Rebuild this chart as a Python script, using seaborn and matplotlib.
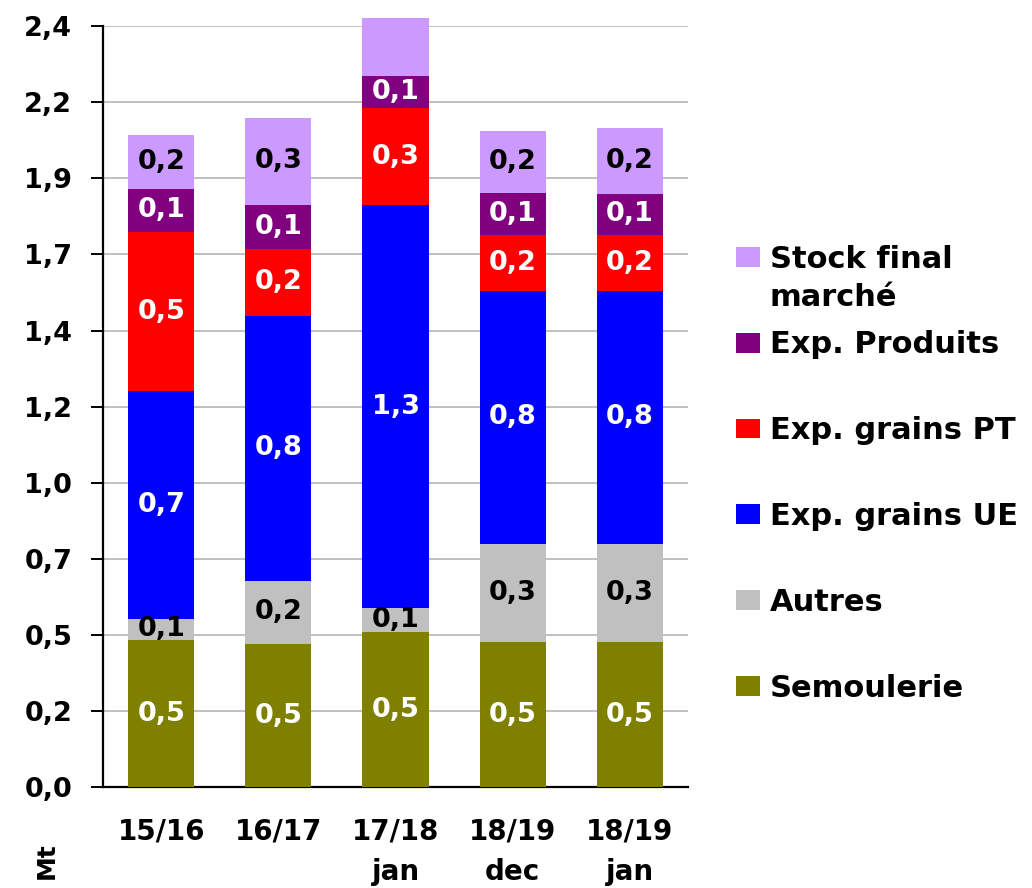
import numpy as np
import pandas as pd
import matplotlib
matplotlib.use("Agg")
import matplotlib.pyplot as plt
import seaborn as sns
from matplotlib.patches import Patch
from matplotlib.ticker import FixedLocator, FuncFormatter

# data (Mt)
seasons = ["15/16", "16/17", "17/18\njan", "18/19\ndec", "18/19\njan"]
semoulerie = [0.465, 0.452, 0.490, 0.458, 0.458]
autres = [0.066, 0.199, 0.076, 0.309, 0.309]
exp_ue = [0.717, 0.836, 1.269, 0.799, 0.799]
exp_pt = [0.502, 0.211, 0.305, 0.176, 0.176]
exp_produits = [0.137, 0.139, 0.104, 0.133, 0.130]
stock_final = [0.169, 0.274, 0.180, 0.193, 0.205]
stock_label_shown = [True, True, False, True, True]

layers = ["Semoulerie", "Autres", "Exp. grains UE", "Exp. grains PT",
          "Exp. Produits", "Stock final"]
colors = ["#808000", "#C0C0C0", "#0000FF", "#FF0000", "#800080", "#CC99FF"]
text_colors = ["white", "black", "white", "white", "white", "black"]

df = pd.DataFrame({"season": seasons, "Semoulerie": semoulerie, "Autres": autres,
                   "Exp. grains UE": exp_ue, "Exp. grains PT": exp_pt,
                   "Exp. Produits": exp_produits, "Stock final": stock_final})
cum = df[layers].cumsum(axis=1)

sns.set_theme(style="white")
plt.rcParams["font.family"] = ["DejaVu Sans"]
plt.rcParams["font.weight"] = "bold"
plt.rcParams["text.color"] = "black"

fig = plt.figure(figsize=(10.32, 8.88), dpi=100)
ax = fig.add_axes([0.0995, 0.1134, 0.5675, 0.8573])

# stacked bars: draw cumulative totals from the top layer down
for name, col in reversed(list(zip(layers, colors))):
    sns.barplot(x=df["season"], y=cum[name], color=col, saturation=1,
                width=0.565, errorbar=None, linewidth=0, ax=ax, zorder=3)
for p in ax.patches:
    p.set_clip_on(False)

# value labels
for i, name in enumerate(layers):
    vals = df[name].values
    bottoms = cum[name].values - vals
    for j, v in enumerate(vals):
        if i == 5 and not stock_label_shown[j]:
            continue
        ax.text(j, bottoms[j] + v / 2, f"{v:.1f}".replace(".", ","),
                ha="center", va="center", color=text_colors[i],
                fontsize=19.5, fontweight="bold", zorder=5)

ax.set_xlim(-0.5, 4.5)
ax.set_ylim(0, 2.4)
yt = np.arange(0, 2.41, 0.24)
ax.yaxis.set_major_locator(FixedLocator(yt))
ax.yaxis.set_major_formatter(FuncFormatter(lambda v, p: f"{v:.1f}".replace(".", ",")))
ax.grid(axis="y", color="#C0C0C0", linewidth=1.4, zorder=0)
ax.set_axisbelow(True)
for s in ["top", "right"]:
    ax.spines[s].set_visible(False)
ax.spines["left"].set_color("black")
ax.spines["bottom"].set_color("black")
ax.spines["left"].set_linewidth(1.6)
ax.spines["bottom"].set_linewidth(1.6)
ax.tick_params(axis="y", left=True, length=9, width=1.4, color="black",
               pad=13, labelsize=19.5)
ax.tick_params(axis="x", bottom=False, pad=16, labelsize=20)
for lab in ax.get_xticklabels() + ax.get_yticklabels():
    lab.set_fontweight("bold")
    lab.set_color("black")
for lab in ax.get_xticklabels():
    lab.set_linespacing(1.55)
ax.set_xlabel("")
ax.set_ylabel("")

fig.text(0.045, 0.031, "Mt", rotation=90, ha="center", va="center",
         fontsize=18, fontweight="bold", color="black")

handles = [Patch(facecolor=c, edgecolor="none") for c in reversed(colors)]
leg = fig.legend(handles, list(reversed(layers)), loc="upper left",
                 bbox_to_anchor=(0.713, 0.7245), frameon=False, borderpad=0,
                 borderaxespad=0, handlelength=0.78, handleheight=0.62,
                 handletextpad=0.33, labelspacing=1.86, labelcolor="black",
                 prop={"size": 22, "weight": "bold"})

# second line of the first legend entry
fig.canvas.draw()
bb = leg.get_texts()[0].get_window_extent().transformed(fig.transFigure.inverted())
fig.text(bb.x0, bb.y0 - 0.011, "marché", ha="left", va="top",
         fontsize=22, fontweight="bold", color="black")

fig.savefig("out.png", dpi=100)
